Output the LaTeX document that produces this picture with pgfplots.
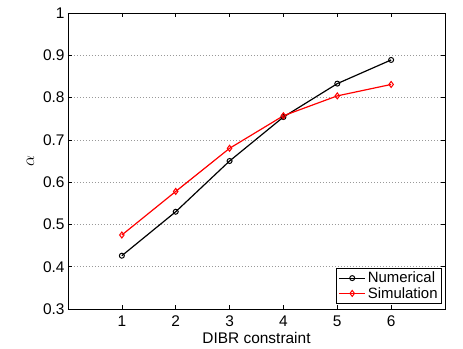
\documentclass[border=0pt]{standalone}
\usepackage{fontspec}
\setmainfont{Liberation Sans}
\usepackage{pgfplots}
\pgfplotsset{compat=1.18}
\begin{document}
\begin{tikzpicture}[x=1bp,y=1bp]
\begin{axis}[
  at={(0,0)}, anchor=south west,
  scale only axis, width=377bp, height=296bp,
  xmin=0, xmax=7, ymin=0.3, ymax=1,
  xtick={1,2,3,4,5,6},
  ytick={0.3,0.4,0.5,0.6,0.7,0.8,0.9,1},
  yticklabels={0.3,0.4,0.5,0.6,0.7,0.8,0.9,1},
  ymajorgrids,
  grid style={dash pattern=on 0.8bp off 2.2bp, gray!80, line width=0.7pt},
  tick align=inside, major tick length=4bp,
  tick style={black, line width=0.6pt},
  axis line style={line width=0.9pt},
  /pgf/number format/assume math mode=true,
  ticklabel style={font=\fontsize{15.5}{17}\selectfont},
  xticklabel style={yshift=-3bp},
  xlabel={DIBR constraint}, ylabel={$\alpha$},
  xlabel style={font=\fontsize{15.5}{17}\selectfont, yshift=1bp},
  ylabel style={font=\fontsize{16}{17}\selectfont, yshift=2bp},
  legend style={font=\fontsize{15}{16}\selectfont, draw=black, line width=0.8pt,
    at={(0.992,0.017)}, anchor=south east, inner xsep=2bp, inner ysep=2bp, row sep=-1bp,
    /tikz/every even column/.append style={column sep=2bp}},
  legend image code/.code={
    \draw[mark repeat=2,mark phase=2] plot coordinates {(0bp,0bp) (13bp,0bp) (26bp,0bp)};},
  legend cell align=left,
]
\addplot[black, line width=1.2pt, mark=o, mark size=2.5bp, mark options={line width=1pt}]
  coordinates {(1,0.426) (2,0.530) (3,0.650) (4,0.754) (5,0.833) (6,0.889)};
\addlegendentry{Numerical}
\addplot[red, line width=1.2pt, mark=diamond, mark size=3bp, mark options={line width=1pt}]
  coordinates {(1,0.475) (2,0.578) (3,0.680) (4,0.757) (5,0.804) (6,0.831)};
\addlegendentry{Simulation}
\end{axis}
\pgfresetboundingbox
\path (-68bp,-40bp) rectangle (395bp,309bp);
\end{tikzpicture}
\end{document}
